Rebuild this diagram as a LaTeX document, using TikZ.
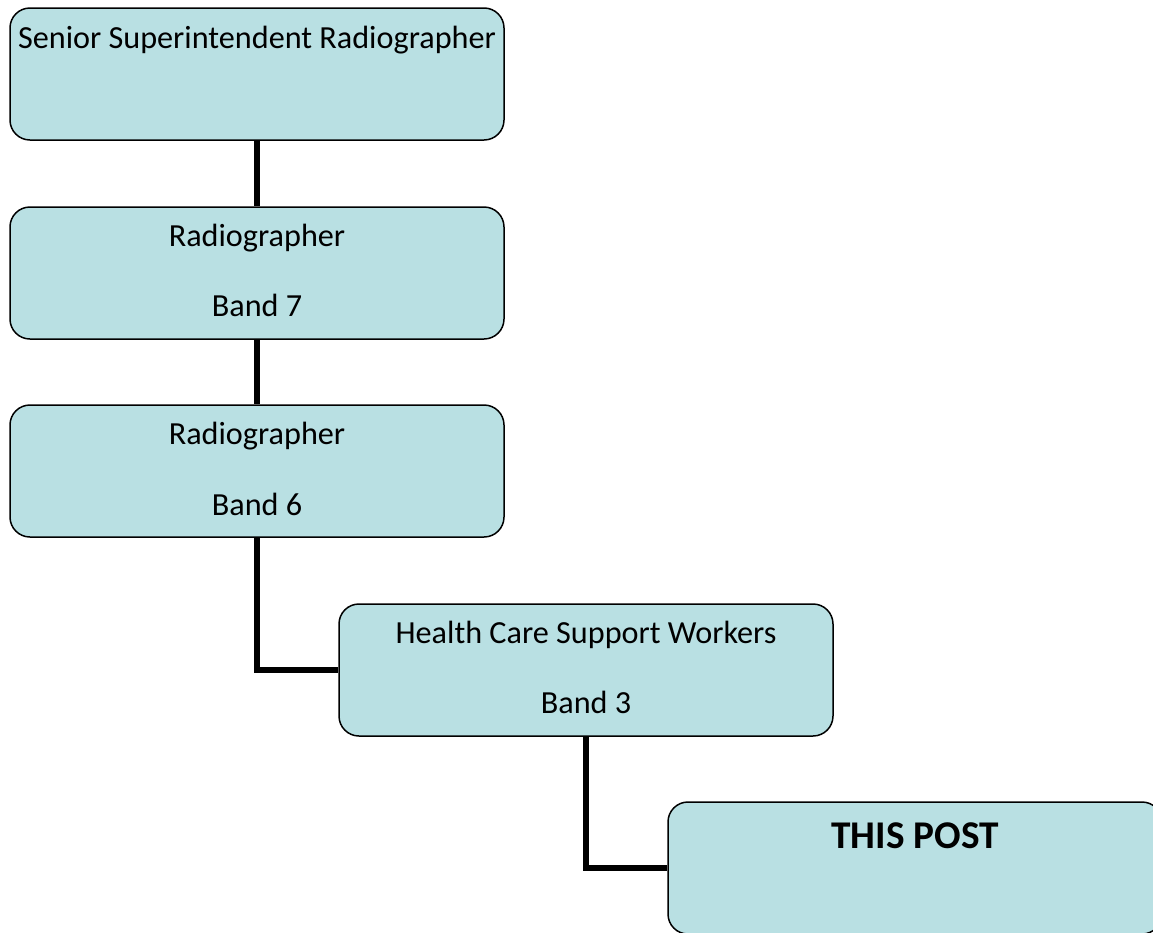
\documentclass[tikz,border=0pt]{standalone}
\usepackage{fontspec}
\setmainfont{Carlito}
\definecolor{boxfill}{RGB}{185,224,227}
\tikzset{
  orgbox/.style={draw=black, line width=1.5pt, fill=boxfill, rounded corners=20pt,
    minimum width=494pt, minimum height=132pt, inner sep=0pt},
  txt/.style={anchor=base, inner sep=0pt, font=\fontsize{32.2}{38}\selectfont},
  bigtxt/.style={anchor=base, inner sep=0pt, font=\fontsize{39.3}{47}\selectfont\bfseries},
  conn/.style={draw=black, line width=5.5pt}
}
\begin{document}
\begin{tikzpicture}[x=1pt,y=-1pt]
\useasboundingbox (0,0) rectangle (1153,932);
% boxes
\node[orgbox] (b1) at (257,74) {};
\node[orgbox] (b2) at (257,273) {};
\node[orgbox] (b3) at (257,471) {};
\node[orgbox] (b4) at (586,670) {};
\node[orgbox] (b5) at (915,868) {};
% connectors
\draw[conn] (b1.south) -- (b2.north);
\draw[conn] (b2.south) -- (b3.north);
\draw[conn] (b3.south) |- (b4.west);
\draw[conn] (b4.south) |- (b5.west);
% texts
\node[txt] (t1) at (257,48) {Senior Superintendent Radiographer};
\node[txt] (t2a) at (257,246) {Radiographer};
\node[txt] (t2b) at (257,316) {Band 7};
\node[txt] (t3a) at (257,444) {Radiographer};
\node[txt] (t3b) at (257,515) {Band 6};
\node[txt] (t4a) at (586,643) {Health Care Support Workers};
\node[txt] (t4b) at (586,713) {Band 3};
\node[bigtxt] (t5) at (915,848) {THIS POST};
\end{tikzpicture}
\end{document}
